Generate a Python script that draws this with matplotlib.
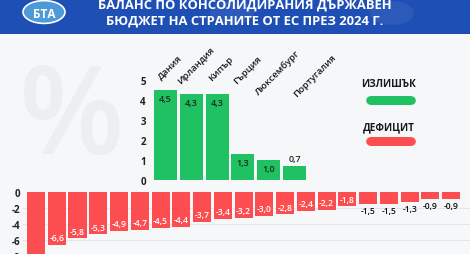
import matplotlib
matplotlib.use("Agg")
import matplotlib.pyplot as plt
from matplotlib.patches import FancyBboxPatch, Circle, Rectangle

# ---------------- data ----------------
title_lines = ["БАЛАНС ПО КОНСОЛИДИРАНИЯ ДЪРЖАВЕН", "БЮДЖЕТ НА СТРАНИТЕ ОТ ЕС ПРЕЗ 2024 Г."]
surplus_countries = ["Дания", "Ирландия", "Кипър", "Гърция", "Люксембург", "Португалия"]
surplus_values = [4.5, 4.3, 4.3, 1.3, 1.0, 0.7]
deficit_values = [-9.3, -6.6, -5.8, -5.3, -4.9, -4.7, -4.5, -4.4, -3.7, -3.4, -3.2,
                  -3.0, -2.8, -2.4, -2.2, -1.8, -1.5, -1.5, -1.3, -0.9, -0.9]
surplus_ticks = [0, 1, 2, 3, 4, 5]
deficit_ticks = [0, -2, -4, -6, -8]
legend_labels = ["ИЗЛИШЪК", "ДЕФИЦИТ"]

# ---------------- style ----------------
GREEN = "#1fc163"
RED = "#fc4d50"
BLUE = "#1e4fb5"
BG = "#f6f7f9"
FONT = ["Open Sans", "DejaVu Sans"]
plt.rcParams["font.family"] = FONT

W, H = 470, 255
fig = plt.figure(figsize=(W / 100, H / 100), dpi=100)
fig.patch.set_facecolor(BG)

def fx(px):
    return px / W

def fy(py):
    return 1 - py / H

# background watermark "%"
fig.text(fx(72), fy(122), "%", fontsize=88, color="#edeef0", ha="center", va="center",
         fontweight="semibold", zorder=0)

# header band
fig.patches.append(Rectangle((0, fy(35)), 1, 35 / H, transform=fig.transFigure,
                             facecolor=BLUE, edgecolor="none", zorder=1))
# faint watermark logos in header
for cx in (232, 392):
    fig.patches.append(Circle((fx(cx), fy(14)), 22 / W, transform=fig.transFigure,
                              facecolor="#3b66c2", edgecolor="none", alpha=0.5, zorder=1.5))
# logo
fig.patches.append(Circle((fx(44), fy(13)), 21 / W, transform=fig.transFigure,
                          facecolor="#4d9ad8", edgecolor="white", lw=1.2, zorder=2))
fig.text(fx(44), fy(14), "БТА", color="white", fontsize=8.5, fontweight="bold",
         ha="center", va="center", zorder=3)

fig.text(fx(245), fy(5), title_lines[0], color="white", fontsize=9.4, fontweight="bold",
         ha="center", va="center", zorder=3)
fig.text(fx(245), fy(21), title_lines[1], color="white", fontsize=9.4, fontweight="bold",
         ha="center", va="center", zorder=3)

# ---------------- surplus axes ----------------
# pixel geometry: bar i centre at 165.5 + 25.8*i, y=0 at 181, 20 px per unit
ax1_l, ax1_r, ax1_t, ax1_b = 150, 315, 78, 183
ax1 = fig.add_axes([fx(ax1_l), fy(ax1_b), (ax1_r - ax1_l) / W, (ax1_b - ax1_t) / H])
ax1.set_facecolor("none")
ax1.set_xlim((ax1_l - 165.5) / 25.8, (ax1_r - 165.5) / 25.8)
ax1.set_ylim((181 - ax1_b) / 20, (181 - ax1_t) / 20)
xs1 = list(range(len(surplus_values)))
ax1.bar(xs1, surplus_values, width=0.89, color=GREEN, zorder=2)
for x, v in zip(xs1, surplus_values):
    s = f"{v:.1f}".replace(".", ",")
    if v >= 0.9:
        ax1.annotate(s, (x, v), xytext=(0, -3), textcoords="offset points", ha="center",
                     va="top", fontsize=6.5, fontweight="semibold", color="#1b2a1b")
    else:
        ax1.annotate(s, (x, v), xytext=(0, 2.5), textcoords="offset points", ha="center",
                     va="bottom", fontsize=6.5, fontweight="semibold", color="#1b2a1b")
label_pos = [(0.16, 5.68), (0.19, 5.75), (0.16, 5.6), (0.16, 5.55), (0.35, 5.4), (0.8, 5.25)]
for x, name, (dx, y) in zip(xs1, surplus_countries, label_pos):
    ax1.text(x + dx, y, name, rotation=45, ha="center", va="center", fontsize=6.8,
             fontweight="semibold", color="#1a1a1a", clip_on=False)
ax1.set_yticks(surplus_ticks)
ax1.set_yticklabels([str(t) for t in surplus_ticks])
ax1.set_xticks([])
ax1.tick_params(axis="y", length=0, pad=3, labelsize=7)
for lab in ax1.get_yticklabels():
    lab.set_fontweight("bold")
    lab.set_color("#222222")
for sp in ax1.spines.values():
    sp.set_visible(False)

# ---------------- deficit axes ----------------
# pixel geometry: bar i centre at 36 + 20.76*i, y=0 at 193, 8 px per unit
ax2_l, ax2_r, ax2_t, ax2_b = 23, 470, 189, 270
ax2 = fig.add_axes([fx(ax2_l), fy(ax2_b), (ax2_r - ax2_l) / W, (ax2_b - ax2_t) / H])
ax2.set_facecolor("none")
ax2.set_xlim((ax2_l - 36) / 20.76, (ax2_r - 36) / 20.76)
ymin2, ymax2 = (193 - ax2_b) / 8, (193 - ax2_t) / 8
ax2.set_ylim(ymin2, ymax2)
xs2 = list(range(len(deficit_values)))
for t in deficit_ticks[1:]:
    ax2.axhline(t, color="#e2e3e5", lw=0.6, zorder=1)
ax2.bar(xs2, deficit_values, width=0.87, color=RED, zorder=2)
visible_floor = (193 - H) / 8  # data value at the figure's bottom edge
for x, v in zip(xs2, deficit_values):
    s = f"{v:.1f}".replace(".", ",")
    if v + 1.5 < visible_floor:
        continue  # label would fall below the visible picture
    if v <= -1.8:
        ax2.annotate(s, (x, v), xytext=(0, 2), textcoords="offset points", ha="center",
                     va="bottom", fontsize=6.2, color="white", fontweight="semibold")
    else:
        ax2.annotate(s, (x, v), xytext=(0, -1.5), textcoords="offset points", ha="center",
                     va="top", fontsize=6.2, color="#111111", fontweight="semibold")
ax2.set_yticks(deficit_ticks)
ax2.set_yticklabels([str(t) for t in deficit_ticks])
ax2.set_xticks([])
ax2.tick_params(axis="y", length=0, pad=2, labelsize=7)
for lab in ax2.get_yticklabels():
    lab.set_fontweight("bold")
    lab.set_color("#222222")
for sp in ax2.spines.values():
    sp.set_visible(False)

# ---------------- legend ----------------
for label, color, ty, by in zip(legend_labels, [GREEN, RED], [85, 128], [97, 138]):
    fig.text(fx(389), fy(ty), label, fontsize=7.2, fontweight="bold", color="#1a1a1a",
             ha="center", va="center")
    fig.patches.append(FancyBboxPatch((fx(366), fy(by + 9)), (416 - 366) / W, 9 / H,
                                      boxstyle="round,pad=0,rounding_size=0.012",
                                      transform=fig.transFigure, facecolor=color,
                                      edgecolor="none", mutation_aspect=W / H))

fig.savefig("out.png", dpi=100, facecolor=fig.get_facecolor())
